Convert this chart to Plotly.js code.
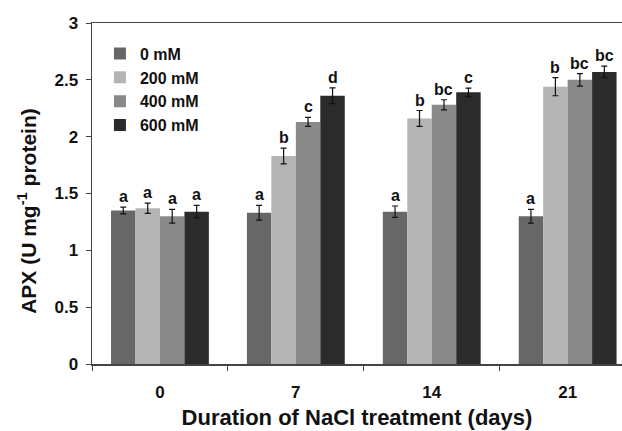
<!DOCTYPE html>
<html>
<head>
<meta charset="utf-8">
<script src="https://cdn.plot.ly/plotly-3.0.1.min.js"></script>
<style>html,body{margin:0;padding:0;background:#fff;}#chart{width:622px;height:431px;}</style>
</head>
<body>
<div id="chart"></div>
<script>
var days = ["0", "7", "14", "21"];
var seriesNames = ["0 mM", "200 mM", "400 mM", "600 mM"];
var colors = ["#676767", "#b4b4b4", "#898989", "#2b2b2b"];

var apx0 = [1.35, 1.33, 1.34, 1.30];
var apx200 = [1.37, 1.83, 2.16, 2.44];
var apx400 = [1.30, 2.13, 2.28, 2.50];
var apx600 = [1.34, 2.36, 2.39, 2.57];

var err0 = [0.03, 0.065, 0.05, 0.06];
var err200 = [0.045, 0.07, 0.07, 0.08];
var err400 = [0.06, 0.04, 0.045, 0.055];
var err600 = [0.055, 0.07, 0.037, 0.05];

var letters0 = ["a", "a", "a", "a"];
var letters200 = ["a", "b", "b", "b"];
var letters400 = ["a", "c", "bc", "bc"];
var letters600 = ["a", "d", "c", "bc"];

var yTicks = [0, 0.5, 1, 1.5, 2, 2.5, 3];

var values = [apx0, apx200, apx400, apx600];
var errs = [err0, err200, err400, err600];
var letters = [letters0, letters200, letters400, letters600];

var FONT = "Liberation Sans, Arial, sans-serif";
var bargap = 0.28;
var traces = [];
var annotations = [];
var nS = values.length;
var bw = (1 - bargap) / nS;
for (var s = 0; s < nS; s++) {
  traces.push({
    type: "bar",
    name: "<b>" + seriesNames[s] + "</b>",
    x: days,
    y: values[s],
    marker: {color: colors[s], line: {width: 0}},
    error_y: {type: "data", array: errs[s], visible: true, color: "#111", thickness: 1.2, width: 3}
  });
  for (var i = 0; i < days.length; i++) {
    annotations.push({
      xref: "x", yref: "y",
      x: i + (s - (nS - 1) / 2) * bw,
      y: values[s][i] + errs[s][i],
      text: "<b>" + letters[s][i] + "</b>",
      showarrow: false,
      yanchor: "bottom",
      yshift: 0,
      font: {family: FONT, size: 16, color: "#111"}
    });
  }
}

annotations.push({
  xref: "paper", yref: "paper",
  x: -0.124, y: 0.45,
  xanchor: "center", yanchor: "middle",
  textangle: -90,
  showarrow: false,
  text: "<b>APX (U mg<sup>-1</sup> protein)</b>",
  font: {family: FONT, size: 21, color: "#111"}
});

var layout = {
  width: 622, height: 431,
  margin: {l: 92, r: 0, t: 23, b: 67},
  paper_bgcolor: "#fff", plot_bgcolor: "#fff",
  barmode: "group", bargap: bargap, bargroupgap: 0,
  font: {family: FONT, color: "#111", size: 14},
  showlegend: true,
  legend: {
    x: 0.015, y: 0.96, xanchor: "left", yanchor: "top",
    bgcolor: "rgba(0,0,0,0)", borderwidth: 0,
    font: {family: FONT, size: 16, color: "#111"},
    itemwidth: 30, tracegroupgap: 0
  },
  xaxis: {
    type: "category",
    range: [-0.5, 3.4],
    tickson: "boundaries",
    ticks: "outside", ticklen: 5, tickcolor: "#444",
    ticklabelstandoff: 12,
    showline: true, linecolor: "#444", linewidth: 1.5, mirror: true,
    showgrid: false, zeroline: false,
    tickfont: {family: FONT, size: 17, color: "#111", weight: "bold"},
    title: {text: "<b>Duration of NaCl treatment (days)</b>", font: {family: FONT, size: 22, color: "#111"}, standoff: 8}
  },
  yaxis: {
    range: [0, 3],
    tickvals: yTicks,
    ticktext: yTicks.map(function (v) { return "<b>" + v + "</b>"; }),
    ticks: "outside", ticklen: 5, tickcolor: "#444",
    ticklabelstandoff: 4,
    showline: true, linecolor: "#444", linewidth: 1.5,
    showgrid: false, zeroline: false,
    tickfont: {family: FONT, size: 17, color: "#111"}
  },
  annotations: annotations
};

Plotly.newPlot("chart", traces, layout, {displayModeBar: false, staticPlot: true});
</script>
</body>
</html>
